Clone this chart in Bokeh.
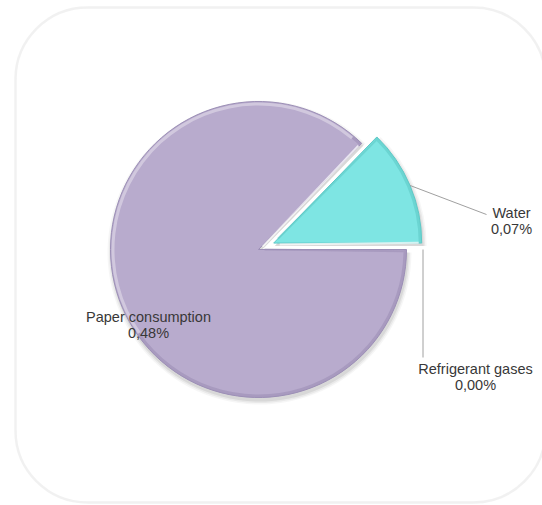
import numpy as np
from bokeh.plotting import figure
from bokeh.models import Range1d, BoxAnnotation
from bokeh.core.properties import value
from bokeh.embed import file_html
from bokeh.resources import INLINE

# ---- data ----
categories = ["Water", "Paper consumption", "Refrigerant gases"]
values = [0.07, 0.48, 0.00]
pct_labels = [f"{v:.2f}".replace(".", ",") + "%" for v in values]

# ---- style / layout ----
fill_colors = ["#7EE5E3", "#B8ABCD", "#C9C9C9"]
edge_colors = ["#5FC9C7", "#9C8FB6", "#AAAAAA"]
explode = [16.5, 0.0, 16.5]
W, H = 542, 505


def Y(sy):
    return H - sy


cx, cy, R = 258.0, Y(249), 148.0

total = sum(values)
fr = np.array(values) / total
ends = 2 * np.pi * np.cumsum(fr)
starts = ends - 2 * np.pi * fr
mids = (starts + ends) / 2
xs = cx + np.array(explode) * np.cos(mids)
ys = cy + np.array(explode) * np.sin(mids)

p = figure(width=W, height=H, x_range=Range1d(0, W), y_range=Range1d(0, H),
           output_backend="svg", toolbar_location=None, min_border=0)
p.axis.visible = False
p.grid.visible = False
p.outline_line_color = None
p.background_fill_color = "white"
p.border_fill_color = "white"

# rounded frame
p.add_layout(BoxAnnotation(left=15, right=545, top=Y(7), bottom=Y(502),
                           fill_alpha=0, line_color="#d0d0d0", line_width=2.5,
                           border_radius=72))


def span_intersect(a0, a1, b0, b1):
    out = []
    for k in (-1, 0, 1):
        lo = max(a0, b0 + 2 * np.pi * k)
        hi = min(a1, b1 + 2 * np.pi * k)
        if hi > lo:
            out.append((lo, hi))
    return out


# shadows
for i in range(len(values)):
    if fr[i] <= 0:
        continue
    for k, a in ((4, 0.035), (2.5, 0.05), (1, 0.07)):
        p.wedge(x=xs[i] + 1, y=ys[i] - 3, radius=R + k, start_angle=starts[i],
                end_angle=ends[i], fill_color="black", fill_alpha=a, line_color=None)

# slices
for i in range(len(values)):
    if fr[i] <= 0:
        continue
    p.wedge(x=xs[i], y=ys[i], radius=R, start_angle=starts[i], end_angle=ends[i],
            fill_color=fill_colors[i], line_color=edge_colors[i], line_width=1)
    # light rim on upper-left
    for lo, hi in span_intersect(starts[i], ends[i], np.radians(50), np.radians(215)):
        p.annular_wedge(x=xs[i], y=ys[i], inner_radius=R - 4, outer_radius=R - 1,
                        start_angle=lo, end_angle=hi, fill_color="white",
                        fill_alpha=0.35, line_color=None)
    # dark rim on lower-right
    for lo, hi in span_intersect(starts[i], ends[i], np.radians(215), np.radians(410)):
        p.annular_wedge(x=xs[i], y=ys[i], inner_radius=R - 3, outer_radius=R,
                        start_angle=lo, end_angle=hi, fill_color=edge_colors[i],
                        fill_alpha=0.6, line_color=None)
    # highlight along start edge, shade along end edge
    a = starts[i] + 0.012
    p.segment(x0=xs[i] + 6 * np.cos(a), y0=ys[i] + 6 * np.sin(a) - 1.5,
              x1=xs[i] + (R - 3) * np.cos(a), y1=ys[i] + (R - 3) * np.sin(a) - 1.5,
              line_color="white", line_alpha=0.7, line_width=2)
    b = ends[i] - 0.012
    p.segment(x0=xs[i] + 6 * np.cos(b), y0=ys[i] + 6 * np.sin(b),
              x1=xs[i] + (R - 3) * np.cos(b), y1=ys[i] + (R - 3) * np.sin(b),
              line_color=edge_colors[i], line_alpha=0.6, line_width=2)

# leader lines
edge_x = xs + R * np.cos(mids)
edge_y = ys + R * np.sin(mids)
leader_end = {0: (486, Y(214)), 2: (edge_x[2], Y(357))}
for i, (ex, ey) in leader_end.items():
    p.line(x=[edge_x[i], ex], y=[edge_y[i], ey], line_color="#a0a0a0", line_width=1)

# labels
label_pos = {0: (511, Y(212)), 1: (148, Y(316)), 2: (475, Y(368))}
line_gap = 16.5
font = value("Liberation Sans")
for i, (lx, ly) in label_pos.items():
    p.text(x=[lx], y=[ly], text=[categories[i]], text_font=font,
           text_font_size="14.5px", text_color="#383838", text_align="center",
           text_baseline="middle")
    p.text(x=[lx], y=[ly - line_gap], text=[pct_labels[i]], text_font=font,
           text_font_size="14.5px", text_color="#383838", text_align="center",
           text_baseline="middle")

open("out.html", "w").write(file_html(p, INLINE))
